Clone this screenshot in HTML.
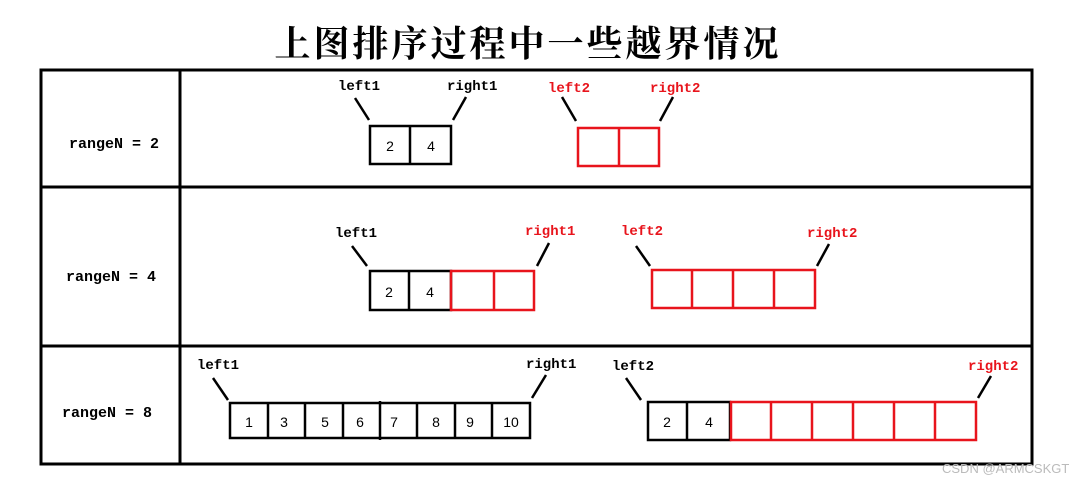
<!DOCTYPE html>
<html><head><meta charset="utf-8"><style>
html,body{margin:0;padding:0;background:#fff;}
svg{display:block;}
.m{font-family:"Liberation Mono",monospace;font-weight:bold;font-size:14px;}
.n{font-family:"Liberation Sans",sans-serif;font-size:14px;}
</style></head><body>
<svg width="1079" height="483" viewBox="0 0 1079 483" xmlns="http://www.w3.org/2000/svg">
<rect width="1079" height="483" fill="#fff"/>
<text x="528" y="56" text-anchor="middle" font-family="'Noto Serif CJK SC',serif" font-weight="bold" font-size="36" letter-spacing="3">上图排序过程中一些越界情况</text>
<g stroke="#000" stroke-width="3" fill="none">
<rect x="41" y="70" width="991" height="394"/>
<line x1="180" y1="70" x2="180" y2="464"/>
<line x1="41" y1="187" x2="1032" y2="187"/>
<line x1="41" y1="346" x2="1032" y2="346"/>
</g>
<g class="m">
<text x="69" y="148" font-size="15">rangeN = 2</text>
<text x="66" y="281" font-size="15">rangeN = 4</text>
<text x="62" y="417" font-size="15">rangeN = 8</text>
</g>
<!-- row1 -->
<g stroke="#000" stroke-width="2.5" fill="none">
<rect x="370" y="126" width="81" height="38"/><line x1="410" y1="126" x2="410" y2="164"/>
<line x1="355" y1="98" x2="369" y2="120"/><line x1="466" y1="97" x2="453" y2="120"/>
<line x1="562" y1="97" x2="576" y2="121"/><line x1="673" y1="97" x2="660" y2="121"/>
</g>
<g stroke="#e8141c" stroke-width="2.5" fill="none">
<rect x="578" y="128" width="81" height="38"/><line x1="619" y1="128" x2="619" y2="166"/>
</g>
<g class="m">
<text x="338" y="90">left1</text><text x="447" y="90">right1</text>
<text x="548" y="92" fill="#e8141c">left2</text><text x="650" y="92" fill="#e8141c">right2</text>
</g>
<g class="n" text-anchor="middle"><text x="390" y="151">2</text><text x="431" y="151">4</text></g>
<!-- row2 -->
<g stroke="#000" stroke-width="2.5" fill="none">
<rect x="370" y="271" width="81" height="39"/><line x1="409" y1="271" x2="409" y2="310"/>
<line x1="352" y1="246" x2="367" y2="266"/><line x1="549" y1="243" x2="537" y2="266"/>
<line x1="636" y1="246" x2="650" y2="266"/><line x1="829" y1="244" x2="817" y2="266"/>
</g>
<g stroke="#e8141c" stroke-width="2.5" fill="none">
<rect x="451" y="271" width="83" height="39"/><line x1="494" y1="271" x2="494" y2="310"/>
<rect x="652" y="270" width="163" height="38"/><line x1="692" y1="270" x2="692" y2="308"/><line x1="733" y1="270" x2="733" y2="308"/><line x1="774" y1="270" x2="774" y2="308"/>
</g>
<g class="m">
<text x="335" y="237">left1</text><text x="525" y="235" fill="#e8141c">right1</text>
<text x="621" y="235" fill="#e8141c">left2</text><text x="807" y="237" fill="#e8141c">right2</text>
</g>
<g class="n" text-anchor="middle"><text x="389" y="297">2</text><text x="430" y="297">4</text></g>
<!-- row3 -->
<g stroke="#000" stroke-width="2.5" fill="none">
<rect x="230" y="403" width="300" height="35"/>
<line x1="268" y1="403" x2="268" y2="438"/><line x1="305" y1="403" x2="305" y2="438"/><line x1="343" y1="403" x2="343" y2="438"/><line x1="380" y1="401" x2="380" y2="440"/><line x1="417" y1="403" x2="417" y2="438"/><line x1="455" y1="403" x2="455" y2="438"/><line x1="492" y1="403" x2="492" y2="438"/>
<line x1="213" y1="378" x2="228" y2="400"/><line x1="546" y1="375" x2="532" y2="398"/>
<rect x="648" y="402" width="82" height="38"/><line x1="687" y1="402" x2="687" y2="440"/>
<line x1="626" y1="378" x2="641" y2="400"/><line x1="991" y1="376" x2="978" y2="398"/>
</g>
<g stroke="#e8141c" stroke-width="2.5" fill="none">
<rect x="731" y="402" width="245" height="38"/>
<line x1="771" y1="402" x2="771" y2="440"/><line x1="812" y1="402" x2="812" y2="440"/><line x1="853" y1="402" x2="853" y2="440"/><line x1="894" y1="402" x2="894" y2="440"/><line x1="935" y1="402" x2="935" y2="440"/>
</g>
<g class="m">
<text x="197" y="369">left1</text><text x="526" y="368">right1</text>
<text x="612" y="370">left2</text><text x="968" y="370" fill="#e8141c">right2</text>
</g>
<g class="n" text-anchor="middle">
<text x="249" y="427">1</text><text x="284" y="427">3</text><text x="325" y="427">5</text><text x="360" y="427">6</text><text x="394" y="427">7</text><text x="436" y="427">8</text><text x="470" y="427">9</text><text x="511" y="427">10</text>
<text x="667" y="427">2</text><text x="709" y="427">4</text>
</g>
<text x="942" y="473" font-family="'Liberation Sans',sans-serif" font-size="13" fill="#bbbbbb">CSDN @ARMCSKGT</text>
</svg>
</body></html>
